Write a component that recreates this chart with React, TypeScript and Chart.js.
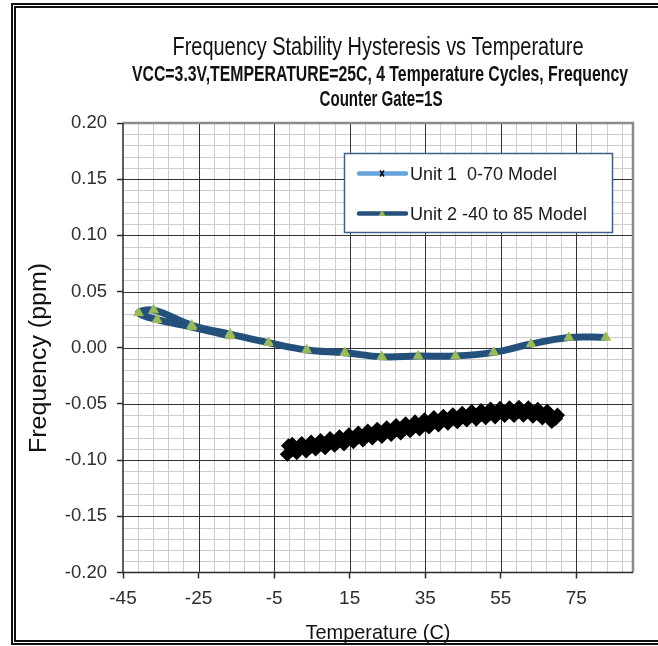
import React, { useEffect, useRef } from 'react';
import { Chart, registerables } from 'chart.js';

Chart.register(...registerables);

// ---------- texts ----------
const TITLE = 'Frequency Stability Hysteresis vs Temperature';
const SUBTITLE_1 = 'VCC=3.3V,TEMPERATURE=25C, 4 Temperature Cycles, Frequency';
const SUBTITLE_2 = 'Counter Gate=1S';
const X_TITLE = 'Temperature (C)';
const Y_TITLE = 'Frequency (ppm)';
const UNIT1_LABEL = 'Unit 1  0-70 Model';
const UNIT2_LABEL = 'Unit 2 -40 to 85 Model';

// ---------- axes ----------
const X_MIN = -45;
const X_MAX = 90;
const Y_MIN = -0.2;
const Y_MAX = 0.2;
const X_MAJOR_TICKS = [-45, -25, -5, 15, 35, 55, 75];
const Y_MAJOR_TICKS = [-0.2, -0.15, -0.1, -0.05, 0, 0.05, 0.1, 0.15, 0.2];
const X_MINOR_STEP = 4;
const Y_MINOR_STEP = 0.01;

// ---------- data ----------
// Unit 1 (0-70 model): dense measured band, read along the band (heating / cooling / heating)
const unit1Temp = [
  -1.5, 1, 3.5, 6, 8.5, 11, 13.5, 16, 18.5, 21, 23.5, 26, 28.5, 31, 33.5, 36, 38.5, 41, 43.5, 46, 48.5, 51, 53.5, 56, 58.5, 61, 63.5, 66, 68.5,
  70, 67.3, 64.8, 62.3, 59.8, 57.3, 54.8, 52.3, 49.8, 47.3, 44.8, 42.3, 39.8, 37.3, 34.8, 32.3, 29.8, 27.3, 24.8, 22.3, 19.8, 17.3, 14.8, 12.3, 9.8, 7.3, 4.8, 2.3, -0.2, -1.2,
  0, 2.2, 4.7, 7.2, 9.7, 12.2, 14.7, 17.2, 19.7, 22.2, 24.7, 27.2, 29.7, 32.2, 34.7, 37.2, 39.7, 42.2, 44.7, 47.2, 49.7, 52.2, 54.7, 57.2, 59.7, 62.2, 64.7, 67.2, 69.5,
];
const unit1Freq = [
  -0.0948, -0.0933, -0.0918, -0.0901, -0.0889, -0.0868, -0.0855, -0.0835, -0.0821, -0.0803, -0.079, -0.0772, -0.0758, -0.0738, -0.0722, -0.0705, -0.0686, -0.0672, -0.0659, -0.0643, -0.0635, -0.0622, -0.0615, -0.0603, -0.0602, -0.0601, -0.061, -0.0625, -0.0655,
  -0.06, -0.0565, -0.0548, -0.0535, -0.053, -0.0535, -0.054, -0.0545, -0.056, -0.0568, -0.0583, -0.0596, -0.061, -0.0622, -0.0642, -0.066, -0.0676, -0.0693, -0.0712, -0.0725, -0.0742, -0.076, -0.0775, -0.0792, -0.0808, -0.0826, -0.084, -0.0852, -0.086, -0.0872,
  -0.0905, -0.0888, -0.088, -0.0858, -0.0845, -0.0826, -0.0812, -0.0795, -0.078, -0.076, -0.0748, -0.0729, -0.0715, -0.0695, -0.068, -0.0658, -0.0645, -0.063, -0.0618, -0.0602, -0.0595, -0.0582, -0.0576, -0.0568, -0.0566, -0.057, -0.0582, -0.0605, -0.063,
];

// Unit 2 (-40 to 85 model)
const unit2Temp = [-16.7, -26.8, -36.0, -40.9, -36.9, -26.8, -16.7, -6.5, 3.6, 13.7, 23.5, 33.1, 43.0, 53.1, 63.0, 73.0, 82.8];
const unit2Freq = [0.0105, 0.0185, 0.025, 0.031, 0.0335, 0.02, 0.0122, 0.0045, -0.002, -0.0044, -0.008, -0.0074, -0.0074, -0.0041, 0.0033, 0.0092, 0.0092];

// ---------- styles ----------
const FONT = '"Liberation Sans", Arial, Helvetica, sans-serif';
const UNIT1_LINE = '#63A4DB';
const UNIT1_MARK = '#000000';
const UNIT2_LINE = '#24507C';
const UNIT2_MARK = '#9BBB59';

function drawFitted(
  ctx: CanvasRenderingContext2D,
  text: string,
  font: string,
  cx: number,
  cy: number,
  targetW: number,
  rotated = false
) {
  ctx.save();
  ctx.font = font;
  const w = ctx.measureText(text).width;
  ctx.translate(cx, cy);
  if (rotated) ctx.rotate(-Math.PI / 2);
  ctx.scale(targetW / w, 1);
  ctx.textAlign = 'center';
  ctx.textBaseline = 'alphabetic';
  ctx.fillStyle = '#111';
  ctx.fillText(text, 0, 0);
  ctx.restore();
}

const gridPlugin = {
  id: 'excelGrid',
  beforeDatasetsDraw(chart: any) {
    const { ctx, chartArea: ca, scales } = chart;
    const xs = scales.x;
    const ys = scales.y;
    const isMajorX = (v: number) => X_MAJOR_TICKS.some((t) => Math.abs(t - v) < 1e-6);
    const isMajorY = (v: number) => Y_MAJOR_TICKS.some((t) => Math.abs(t - v) < 1e-6);
    ctx.save();
    // minor
    ctx.strokeStyle = '#cdcdcd';
    ctx.lineWidth = 1;
    ctx.beginPath();
    for (let v = X_MIN + X_MINOR_STEP; v < X_MAX - 1e-6; v += X_MINOR_STEP) {
      if (isMajorX(v)) continue;
      const px = Math.round(xs.getPixelForValue(v)) + 0.5;
      ctx.moveTo(px, ca.top);
      ctx.lineTo(px, ca.bottom);
    }
    const ny = Math.round((Y_MAX - Y_MIN) / Y_MINOR_STEP);
    for (let k = 1; k < ny; k++) {
      const v = Y_MIN + k * Y_MINOR_STEP;
      if (isMajorY(v)) continue;
      const py = Math.round(ys.getPixelForValue(v)) + 0.5;
      ctx.moveTo(ca.left, py);
      ctx.lineTo(ca.right, py);
    }
    ctx.stroke();
    // major
    ctx.strokeStyle = '#333333';
    ctx.lineWidth = 1;
    ctx.beginPath();
    X_MAJOR_TICKS.forEach((v) => {
      if (v === X_MIN) return;
      const px = Math.round(xs.getPixelForValue(v)) + 0.5;
      ctx.moveTo(px, ca.top);
      ctx.lineTo(px, ca.bottom);
    });
    Y_MAJOR_TICKS.forEach((v) => {
      if (v === Y_MIN || v === Y_MAX) return;
      const py = Math.round(ys.getPixelForValue(v)) + 0.5;
      ctx.moveTo(ca.left, py);
      ctx.lineTo(ca.right, py);
    });
    ctx.stroke();
    // plot border (top / right)
    ctx.strokeStyle = '#8c8c8c';
    ctx.lineWidth = 2.5;
    ctx.beginPath();
    ctx.moveTo(ca.left, ca.top);
    ctx.lineTo(ca.right, ca.top);
    ctx.lineTo(ca.right, ca.bottom);
    ctx.stroke();
    // axes (left / bottom)
    ctx.strokeStyle = '#2a2a2a';
    ctx.lineWidth = 1.5;
    ctx.beginPath();
    ctx.moveTo(ca.left, ca.top);
    ctx.lineTo(ca.left, ca.bottom);
    ctx.lineTo(ca.right, ca.bottom);
    ctx.stroke();
    ctx.restore();
  },
};

const textPlugin = {
  id: 'excelTexts',
  afterDraw(chart: any) {
    const { ctx, chartArea: ca } = chart;
    const cx = (ca.left + ca.right) / 2;
    drawFitted(ctx, TITLE, `26px ${FONT}`, cx, 54.5, 411);
    drawFitted(ctx, SUBTITLE_1, `bold 22px ${FONT}`, cx + 2, 80.5, 496);
    drawFitted(ctx, SUBTITLE_2, `bold 22px ${FONT}`, cx + 3, 105.5, 123);
    drawFitted(ctx, X_TITLE, `21px ${FONT}`, cx, 639, 145);
    drawFitted(ctx, Y_TITLE, `23px ${FONT}`, 46, 358, 190, true);

    // legend
    const lx = 344.5;
    const ly = 153.5;
    const lw = 268;
    const lh = 79;
    ctx.save();
    ctx.fillStyle = '#ffffff';
    ctx.fillRect(lx, ly, lw, lh);
    ctx.strokeStyle = '#3f6189';
    ctx.lineWidth = 1.5;
    ctx.strokeRect(lx, ly, lw, lh);
    const rows = [
      { label: chart.data.datasets[0].label, line: UNIT1_LINE, mark: 'x', y: 173.5 },
      { label: chart.data.datasets[1].label, line: UNIT2_LINE, mark: 'tri', y: 213.5 },
    ];
    rows.forEach((r) => {
      ctx.strokeStyle = r.line;
      ctx.lineWidth = 4.5;
      ctx.lineCap = 'round';
      ctx.beginPath();
      ctx.moveTo(359, r.y);
      ctx.lineTo(406, r.y);
      ctx.stroke();
      const mx = 382;
      if (r.mark === 'x') {
        ctx.strokeStyle = UNIT1_MARK;
        ctx.lineWidth = 1.5;
        ctx.lineCap = 'butt';
        ctx.beginPath();
        ctx.moveTo(mx - 2, r.y - 3);
        ctx.lineTo(mx + 2, r.y + 3);
        ctx.moveTo(mx + 2, r.y - 3);
        ctx.lineTo(mx - 2, r.y + 3);
        ctx.stroke();
      } else {
        ctx.fillStyle = UNIT2_MARK;
        ctx.beginPath();
        ctx.moveTo(mx, r.y - 3.5);
        ctx.lineTo(mx + 3.5, r.y + 2.5);
        ctx.lineTo(mx - 3.5, r.y + 2.5);
        ctx.closePath();
        ctx.fill();
      }
      ctx.fillStyle = '#1a1a1a';
      ctx.font = `18px ${FONT}`;
      ctx.textAlign = 'left';
      ctx.textBaseline = 'middle';
      ctx.fillText(r.label, 410, r.y + 2);
    });
    ctx.restore();
  },
};

export default function App() {
  const canvasRef = useRef<HTMLCanvasElement | null>(null);

  useEffect(() => {
    if (!canvasRef.current) return;
    const unit1 = unit1Temp.map((t, i) => ({ x: t, y: unit1Freq[i] }));
    const unit2 = unit2Temp.map((t, i) => ({ x: t, y: unit2Freq[i] }));

    const chart = new Chart(canvasRef.current, {
      type: 'scatter',
      data: {
        datasets: [
          {
            label: UNIT1_LABEL,
            data: unit1,
            showLine: true,
            borderColor: UNIT1_LINE,
            borderWidth: 2,
            tension: 0,
            pointStyle: 'rectRot',
            pointRadius: 6.5,
            pointBorderColor: UNIT1_MARK,
            pointBackgroundColor: UNIT1_MARK,
            pointBorderWidth: 1.5,
          },
          {
            label: UNIT2_LABEL,
            data: unit2,
            showLine: true,
            borderColor: UNIT2_LINE,
            borderWidth: 7,
            tension: 0.4,
            pointStyle: 'triangle',
            pointRadius: 5.5,
            pointBorderColor: UNIT2_MARK,
            pointBackgroundColor: UNIT2_MARK,
            pointBorderWidth: 1,
          },
        ],
      },
      options: {
        animation: false,
        responsive: true,
        maintainAspectRatio: false,
        devicePixelRatio: 1,
        layout: { padding: { top: 123, right: 25, left: 0, bottom: 0 } },
        plugins: {
          legend: { display: false },
          title: { display: false },
          tooltip: { enabled: false },
        },
        scales: {
          x: {
            type: 'linear',
            min: X_MIN,
            max: X_MAX,
            afterBuildTicks: (s: any) => {
              s.ticks = X_MAJOR_TICKS.map((v) => ({ value: v }));
            },
            afterFit: (s: any) => {
              s.height = 73.5;
            },
            border: { display: false },
            grid: {
              display: true,
              drawOnChartArea: false,
              drawTicks: true,
              tickLength: 6,
              tickColor: '#2a2a2a',
              tickWidth: 1.5,
            },
            ticks: {
              autoSkip: false,
              maxRotation: 0,
              padding: 9,
              color: '#2e2e2e',
              font: { family: FONT, size: 19 },
              callback: (v: any) => String(v),
            },
          },
          y: {
            type: 'linear',
            min: Y_MIN,
            max: Y_MAX,
            afterBuildTicks: (s: any) => {
              s.ticks = Y_MAJOR_TICKS.map((v) => ({ value: v }));
            },
            afterFit: (s: any) => {
              s.width = 123;
            },
            border: { display: false },
            grid: {
              display: true,
              drawOnChartArea: false,
              drawTicks: true,
              tickLength: 6,
              tickColor: '#2a2a2a',
              tickWidth: 1.5,
            },
            ticks: {
              autoSkip: false,
              padding: 10,
              color: '#2e2e2e',
              font: { family: FONT, size: 18.5 },
              callback: (v: any) => Number(v).toFixed(2),
            },
          },
        },
      },
      plugins: [gridPlugin, textPlugin],
    } as any);

    return () => chart.destroy();
  }, []);

  return (
    <div
      style={{
        position: 'fixed',
        left: 0,
        top: 0,
        width: 658,
        height: 646,
        overflow: 'hidden',
        background: '#ffffff',
      }}
    >
      <div style={{ position: 'absolute', left: 0, top: 0, width: 658, height: 646 }}>
        <canvas ref={canvasRef} />
      </div>
      <div
        style={{
          position: 'absolute',
          left: 11,
          top: 3,
          width: 700,
          height: 642,
          boxSizing: 'border-box',
          border: '5px double #111',
          pointerEvents: 'none',
        }}
      />
    </div>
  );
}
